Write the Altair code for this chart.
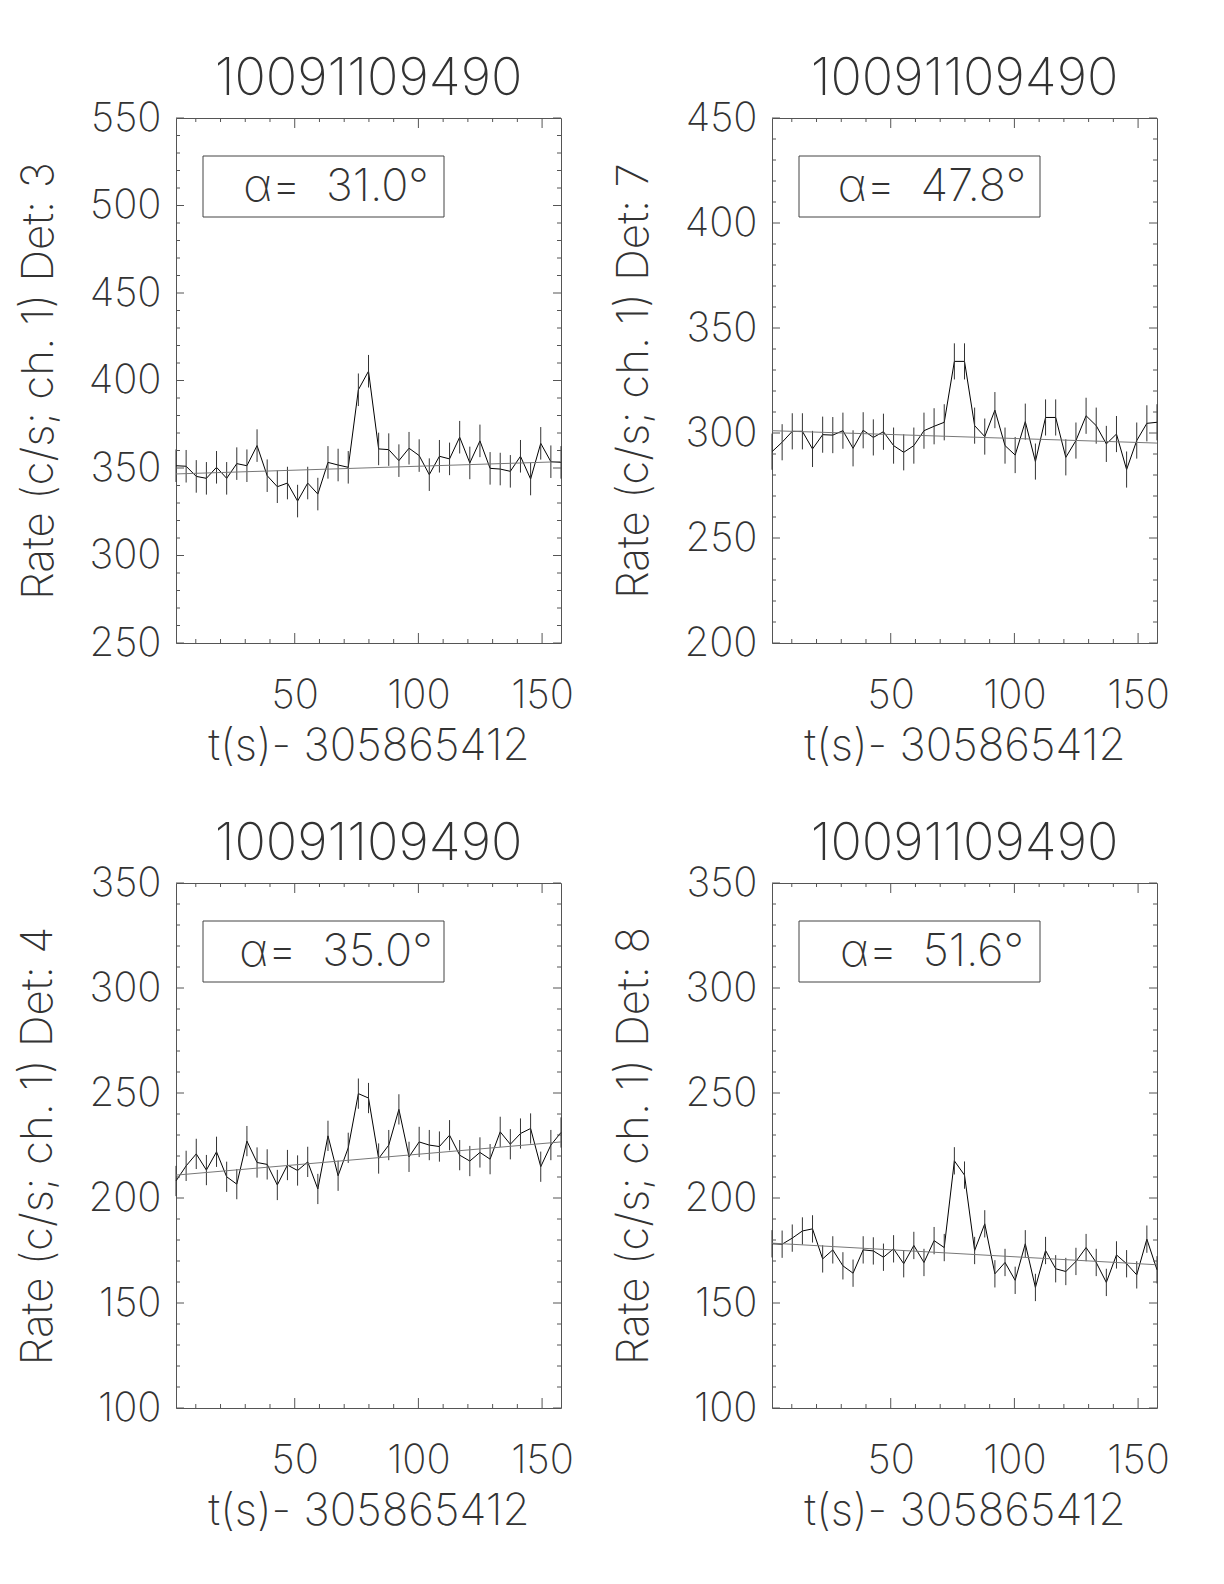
import altair as alt
import pandas as pd

# ---- data ----
t_sec = [2.0, 6.096, 10.192, 14.288, 18.384, 22.48, 26.576, 30.672, 34.768, 38.864,
         42.96, 47.056, 51.152, 55.248, 59.344, 63.44, 67.536, 71.632, 75.728, 79.824,
         83.92, 88.016, 92.112, 96.208, 100.304, 104.4, 108.496, 112.592, 116.688, 120.784,
         124.88, 128.976, 133.072, 137.168, 141.264, 145.36, 149.456, 153.552, 157.648]

rate_det3 = [351.3, 351.0, 345.2, 344.1, 350.4, 344.1, 352.5, 351.3, 362.8, 345.6,
             339.3, 341.4, 331.1, 341.4, 335.1, 353.2, 351.7, 350.4, 394.7, 405.3,
             360.9, 360.5, 354.2, 361.3, 357.1, 346.2, 356.7, 355.2, 367.6, 352.9,
             365.5, 349.8, 349.4, 348.1, 356.7, 343.7, 364.1, 353.6, 353.2]
rate_det7 = [291.1, 295.6, 300.8, 300.8, 292.4, 299.2, 299.0, 301.1, 292.7, 301.3,
             297.9, 300.6, 294.0, 290.8, 294.0, 301.1, 303.2, 305.1, 334.1, 334.1,
             303.5, 298.3, 310.9, 294.0, 289.5, 305.4, 286.4, 307.4, 307.4, 288.4,
             296.4, 308.2, 303.5, 294.8, 299.5, 282.6, 296.4, 304.6, 305.1]
rate_det4 = [208.1, 215.3, 221.0, 213.3, 222.0, 210.1, 206.6, 227.1, 216.9, 216.0,
             206.2, 215.7, 213.1, 217.2, 204.3, 229.6, 210.6, 223.9, 249.7, 247.6,
             218.8, 225.2, 242.2, 219.6, 226.7, 225.2, 224.5, 229.9, 220.4, 217.6,
             221.7, 218.5, 231.5, 225.6, 230.7, 233.1, 214.9, 225.2, 231.2]
rate_det8 = [178.2, 178.0, 180.9, 184.3, 185.3, 171.0, 175.3, 167.7, 164.2, 175.3,
             174.8, 171.8, 175.8, 168.7, 177.4, 169.3, 179.7, 176.4, 217.7, 210.9,
             175.0, 187.7, 163.9, 169.3, 160.8, 178.2, 157.4, 175.0, 166.3, 165.0,
             169.8, 176.4, 169.3, 159.8, 172.9, 168.7, 163.4, 180.4, 165.8]

fit_det3 = [346.6, 353.6]
fit_det7 = [301.1, 295.2]
fit_det4 = [210.9, 226.7]
fit_det8 = [178.5, 168.2]

err_det3 = 9.3
err_det7 = 8.6
err_det4 = 7.2
err_det8 = 6.5

detectors = [3, 7, 4, 8]
alphas = ["31.0", "47.8", "35.0", "51.6"]
y_domains = [[250, 550], [200, 450], [100, 350], [100, 350]]
x_tick_labels = [50, 100, 150]
burst_name = "10091109490"
x_title = "t(s)- 305865412"

# ---- style ----
FONT = "Inter"
TXT = "#333333"
FRAME = "#555555"
W, H = 385, 525
LAB_FS = 40
TIT_FS = 44


def make_panel(rates, fit, err, det, alpha, ydom):
    df = pd.DataFrame({"t": t_sec, "rate": rates})
    df["lo"] = df["rate"] - err
    df["hi"] = df["rate"] + err
    xs = alt.Scale(domain=[t_sec[0], t_sec[-1]], nice=False, zero=False)
    ys = alt.Scale(domain=ydom, nice=False, zero=False)
    xax = alt.Axis(values=x_tick_labels, title=x_title, ticks=False, domain=False,
                   grid=False, labelFontSize=LAB_FS, titleFontSize=TIT_FS,
                   labelPadding=32, titlePadding=9, labelFlush=False)
    yax = alt.Axis(values=list(range(ydom[0], ydom[1] + 1, 50)),
                   title=f"Rate (c/s; ch. 1) Det: {det}", ticks=False, domain=False,
                   grid=False, labelFontSize=LAB_FS, titleFontSize=TIT_FS,
                   labelPadding=15, titlePadding=27, labelFlush=False)

    def X(f):
        return alt.X(f, scale=xs, axis=xax)

    def Y(f):
        return alt.Y(f, scale=ys, axis=yax)

    base = alt.Chart(df)
    line = base.mark_line(color="black", strokeWidth=1).encode(x=X("t:Q"), y=Y("rate:Q"))
    errs = base.mark_rule(color="#333333", strokeWidth=1).encode(
        x=X("t:Q"), y=Y("lo:Q"), y2="hi:Q")
    fit_df = pd.DataFrame({"t": [t_sec[0], t_sec[-1]], "rate": fit})
    fitl = alt.Chart(fit_df).mark_line(color="#777777", strokeWidth=1).encode(
        x=X("t:Q"), y=Y("rate:Q"))

    layers = [line, errs, fitl]

    # inward ticks on all four sides
    yminor = [v for v in range(ydom[0], ydom[1] + 1, 10) if v % 50 != 0]
    ymajor = [v for v in range(ydom[0], ydom[1] + 1, 50)]
    xminor = [v for v in range(10, 160, 10) if v % 50 != 0]
    xmajor = [50, 100, 150]
    for vals, L in [(yminor, 4), (ymajor, 8)]:
        d = alt.Chart(pd.DataFrame({"v": vals}))
        layers.append(d.mark_rule(color=FRAME, strokeWidth=1).encode(
            y=Y("v:Q"), x=alt.value(0), x2=alt.value(L)))
        layers.append(d.mark_rule(color=FRAME, strokeWidth=1).encode(
            y=Y("v:Q"), x=alt.value(W - L), x2=alt.value(W)))
    for vals, L in [(xminor, 4), (xmajor, 10)]:
        d = alt.Chart(pd.DataFrame({"v": vals}))
        layers.append(d.mark_rule(color=FRAME, strokeWidth=1).encode(
            x=X("v:Q"), y=alt.value(H - L), y2=alt.value(H)))
        layers.append(d.mark_rule(color=FRAME, strokeWidth=1).encode(
            x=X("v:Q"), y=alt.value(0), y2=alt.value(L)))

    one = alt.Chart(pd.DataFrame({"a": [0]}))
    box = one.mark_rect(fillOpacity=0, stroke="#444444", strokeWidth=1).encode(
        x=alt.value(27), x2=alt.value(268), y=alt.value(38), y2=alt.value(99))
    lab = one.mark_text(font=FONT, fontSize=45, fontWeight=200, color=TXT,
                        align="center", baseline="middle").encode(
        x=alt.value(160), y=alt.value(69), text=alt.value(f"α=\u00a0 {alpha}°"))
    layers += [box, lab]

    return alt.layer(*layers).properties(
        width=W, height=H,
        title=alt.TitleParams(burst_name, fontSize=52, font=FONT, fontWeight=200,
                              color=TXT, anchor="middle", baseline="alphabetic",
                              offset=-49),
    )


panels = [
    make_panel(rate_det3, fit_det3, err_det3, detectors[0], alphas[0], y_domains[0]),
    make_panel(rate_det7, fit_det7, err_det7, detectors[1], alphas[1], y_domains[1]),
    make_panel(rate_det4, fit_det4, err_det4, detectors[2], alphas[2], y_domains[2]),
    make_panel(rate_det8, fit_det8, err_det8, detectors[3], alphas[3], y_domains[3]),
]

chart = alt.concat(*panels, columns=2, spacing={"row": 48, "column": 38}).properties(
    padding={"left": 8, "top": 44, "right": 5, "bottom": 5},
    background="white",
).configure_view(stroke=FRAME, strokeWidth=1).configure_axis(
    labelFont=FONT, titleFont=FONT, labelColor=TXT, titleColor=TXT,
    labelFontWeight=200, titleFontWeight=200,
)

chart.save("out.html", embed_options={"renderer": "svg", "actions": False})
